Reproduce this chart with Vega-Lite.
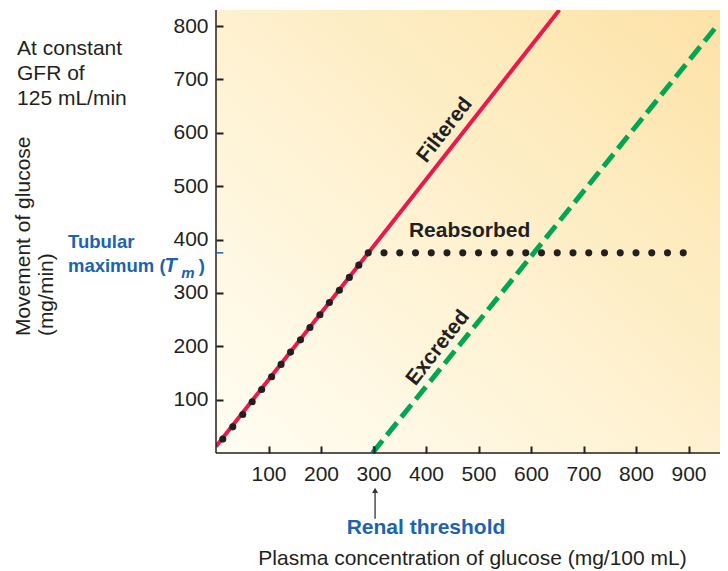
{
  "$schema": "https://vega.github.io/schema/vega-lite/v6.json",
  "width": 504,
  "height": 443,
  "autosize": {"type": "none"},
  "padding": {"left": 216, "top": 10, "right": 8, "bottom": 118},
  "background": "white",
  "config": {"view": {"stroke": null}, "font": "Liberation Sans"},
  "datasets": {
    "frame": [{"x": 0, "x2": 960, "y": 0, "y2": 830}],
    "filtered": [{"x": 0, "y": 12}, {"x": 654, "y": 830}],
    "excreted": [{"x": 298, "y": 0}, {"x": 958, "y": 805}],
    "reabsorbed": [
      {"x": 13, "y": 26}, {"x": 32, "y": 49}, {"x": 51, "y": 72}, {"x": 69, "y": 96},
      {"x": 87, "y": 119}, {"x": 106, "y": 143}, {"x": 124, "y": 166}, {"x": 142, "y": 189},
      {"x": 161, "y": 212}, {"x": 179, "y": 235}, {"x": 198, "y": 259}, {"x": 216, "y": 282},
      {"x": 235, "y": 305}, {"x": 254, "y": 329}, {"x": 272, "y": 352}, {"x": 290, "y": 375},
      {"x": 320, "y": 375}, {"x": 350, "y": 375}, {"x": 380, "y": 375}, {"x": 410, "y": 375},
      {"x": 440, "y": 375}, {"x": 470, "y": 375}, {"x": 500, "y": 375}, {"x": 530, "y": 375},
      {"x": 560, "y": 375}, {"x": 590, "y": 375}, {"x": 620, "y": 375}, {"x": 650, "y": 375},
      {"x": 680, "y": 375}, {"x": 710, "y": 375}, {"x": 740, "y": 375}, {"x": 770, "y": 375},
      {"x": 800, "y": 375}, {"x": 830, "y": 375}, {"x": 860, "y": 375}, {"x": 890, "y": 375}
    ],
    "ydomain": [{"x": 0, "y": 0, "y2": 830}],
    "xdomain": [{"x": 0, "x2": 960, "y": 0}],
    "tmtick": [{"x": 0, "x2": 14, "y": 375}],
    "thtick": [{"x": 300, "y": 0, "y2": 13}],
    "arrow": [{"x": 303, "y": -123, "y2": -70}],
    "arrowhead": [{"x": 303, "y": -70}],
    "gfr": [
      {"x": -379, "y": 757, "label": "At constant"},
      {"x": -379, "y": 710, "label": "GFR of"},
      {"x": -379, "y": 663, "label": "125 mL/min"}
    ],
    "ytitle": [
      {"x": -354, "y": 219, "label": "Movement of glucose"},
      {"x": -310, "y": 219, "label": "(mg/min)"}
    ],
    "tm": [
      {"x": -282, "y": 383.5, "label": "Tubular"},
      {"x": -282, "y": 340, "label": "maximum ("},
      {"x": -33, "y": 340, "label": ")"}
    ],
    "tmT": [{"x": -98, "y": 340, "label": "T"}],
    "tmm": [{"x": -66, "y": 328, "label": "m"}],
    "reab": [{"x": 483, "y": 405, "label": "Reabsorbed"}],
    "diag": [
      {"x": 436, "y": 605, "label": "Filtered"},
      {"x": 423, "y": 197, "label": "Excreted"}
    ],
    "renal": [{"x": 400, "y": -152, "label": "Renal threshold"}]
  },
  "encoding": {
    "x": {
      "field": "x", "type": "quantitative",
      "scale": {"domain": [0, 960], "nice": false, "zero": false},
      "axis": {
        "values": [100, 200, 300, 400, 500, 600, 700, 800, 900],
        "title": "Plasma concentration of glucose (mg/100 mL)",
        "titleFont": "Liberation Sans", "titleFontSize": 21, "titleFontWeight": "normal",
        "titleColor": "#231f20", "titleY": 112, "titleX": 256, "titleBaseline": "middle",
        "labelFont": "Liberation Sans", "labelFontSize": 21, "labelColor": "#231f20",
        "labelPadding": 10, "ticks": true, "tickSize": 7, "tickColor": "#231f20", "tickWidth": 2,
        "offset": -7, "domain": false, "grid": false, "zindex": 1
      }
    },
    "y": {
      "field": "y", "type": "quantitative",
      "scale": {"domain": [0, 830], "nice": false, "zero": false},
      "axis": {
        "values": [100, 200, 300, 400, 500, 600, 700, 800],
        "title": null,
        "labelFont": "Liberation Sans", "labelFontSize": 21, "labelColor": "#231f20",
        "labelPadding": 8, "ticks": true, "tickSize": 7, "tickColor": "#231f20", "tickWidth": 2,
        "offset": -7, "domain": false, "grid": false, "zindex": 1
      }
    }
  },
  "layer": [
    {
      "data": {"name": "frame"},
      "mark": {
        "type": "rect",
        "fill": {
          "gradient": "linear", "x1": 0, "y1": 1, "x2": 1, "y2": 0,
          "stops": [
            {"offset": 0, "color": "#fffdf3"},
            {"offset": 0.5, "color": "#fef1cf"},
            {"offset": 1, "color": "#fde2a6"}
          ]
        }
      },
      "encoding": {"x2": {"field": "x2"}, "y2": {"field": "y2"}}
    },
    {
      "data": {"name": "filtered"},
      "mark": {"type": "line", "color": "#e8194b", "strokeWidth": 4, "clip": true}
    },
    {
      "data": {"name": "excreted"},
      "mark": {"type": "line", "color": "#00a651", "strokeWidth": 5, "strokeDash": [16, 7], "strokeCap": "butt", "clip": true}
    },
    {
      "data": {"name": "reabsorbed"},
      "mark": {"type": "point", "filled": true, "color": "#231f20", "size": 50, "opacity": 1}
    },
    {
      "data": {"name": "ydomain"},
      "mark": {"type": "rule", "color": "#231f20", "strokeWidth": 1.5},
      "encoding": {"y2": {"field": "y2"}}
    },
    {
      "data": {"name": "xdomain"},
      "mark": {"type": "rule", "color": "#231f20", "strokeWidth": 1.5},
      "encoding": {"x2": {"field": "x2"}}
    },
    {
      "data": {"name": "tmtick"},
      "mark": {"type": "rule", "color": "#1c63b0", "strokeWidth": 1.5},
      "encoding": {"x2": {"field": "x2"}}
    },
    {
      "data": {"name": "thtick"},
      "mark": {"type": "rule", "color": "#1c63b0", "strokeWidth": 1.5},
      "encoding": {"y2": {"field": "y2"}}
    },
    {
      "data": {"name": "arrow"},
      "mark": {"type": "rule", "color": "#333333", "strokeWidth": 1.3},
      "encoding": {"y2": {"field": "y2"}}
    },
    {
      "data": {"name": "arrowhead"},
      "mark": {"type": "point", "shape": "triangle-up", "filled": true, "color": "#333333", "size": 35, "opacity": 1}
    },
    {
      "data": {"name": "gfr"},
      "mark": {"type": "text", "align": "left", "baseline": "middle", "fontSize": 21, "color": "#231f20"},
      "encoding": {"text": {"field": "label"}}
    },
    {
      "data": {"name": "ytitle"},
      "mark": {"type": "text", "align": "left", "baseline": "alphabetic", "angle": -90, "fontSize": 21, "color": "#231f20"},
      "encoding": {"text": {"field": "label"}}
    },
    {
      "data": {"name": "tm"},
      "mark": {"type": "text", "align": "left", "baseline": "alphabetic", "fontSize": 18.5, "fontWeight": "bold", "color": "#1c63b0"},
      "encoding": {"text": {"field": "label"}}
    },
    {
      "data": {"name": "tmT"},
      "mark": {"type": "text", "align": "left", "baseline": "alphabetic", "fontSize": 20, "fontWeight": "bold", "fontStyle": "italic", "color": "#1c63b0"},
      "encoding": {"text": {"field": "label"}}
    },
    {
      "data": {"name": "tmm"},
      "mark": {"type": "text", "align": "left", "baseline": "alphabetic", "fontSize": 15, "fontWeight": "bold", "fontStyle": "italic", "color": "#1c63b0"},
      "encoding": {"text": {"field": "label"}}
    },
    {
      "data": {"name": "reab"},
      "mark": {"type": "text", "align": "center", "baseline": "alphabetic", "fontSize": 21, "fontWeight": "bold", "color": "#231f20"},
      "encoding": {"text": {"field": "label"}}
    },
    {
      "data": {"name": "diag"},
      "mark": {"type": "text", "align": "center", "baseline": "middle", "angle": -52, "fontSize": 21, "fontWeight": "bold", "color": "#231f20"},
      "encoding": {"text": {"field": "label"}}
    },
    {
      "data": {"name": "renal"},
      "mark": {"type": "text", "align": "center", "baseline": "alphabetic", "fontSize": 21, "fontWeight": "bold", "color": "#1c63b0"},
      "encoding": {"text": {"field": "label"}}
    }
  ]
}
